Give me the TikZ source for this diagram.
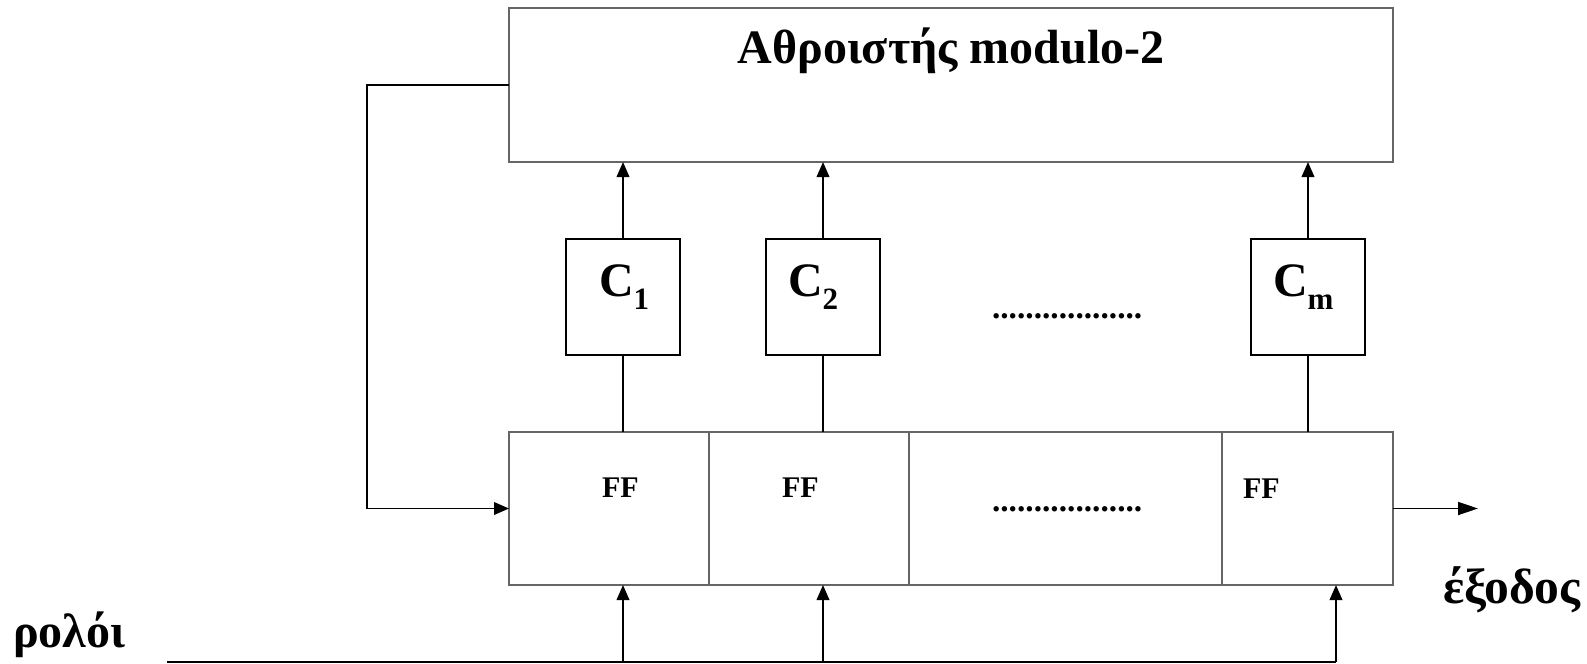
\documentclass[tikz,border=0pt]{standalone}
\usepackage{fontspec}
\setmainfont{Liberation Serif}
\usetikzlibrary{arrows.meta}
\begin{document}
\begin{tikzpicture}[x=0.5pt,y=-0.5pt,
  bigbox/.style={draw=black!60,line width=0.6pt,inner sep=0pt,outer sep=0pt,rectangle},
  cbox/.style={draw=black,line width=1pt,inner sep=0pt,outer sep=0pt,rectangle,minimum width=57pt,minimum height=58pt},
  cell/.style={bigbox,minimum height=76.5pt},
  wire/.style={draw=black,line width=0.9pt},
  arr/.style={wire,-{Triangle[length=7.5pt,width=6.3pt]}},
  outarr/.style={wire,-{Triangle[length=10pt,width=6.5pt]}},
  txt/.style={inner sep=0pt,outer sep=0pt,font=\bfseries}]
\useasboundingbox (0,0) rectangle (1587,664);
% top adder box
\node[bigbox,minimum width=442pt,minimum height=77pt] (sum) at (951,85) {};
\node[txt,anchor=base,font=\bfseries\fontsize{24}{24}\selectfont] (sumlabel) at (951,63) {Αθροιστής modulo-2};
% coefficient boxes
\node[cbox] (c1) at (623,297) {};
\node[cbox] (c2) at (823,297) {};
\node[cbox] (cm) at (1308,297) {};
\newcommand{\csub}[1]{{\fontsize{15.5}{15.5}\selectfont\raisebox{-6.5pt}{#1}}}
\node[txt,anchor=base west,font=\bfseries\fontsize{24}{24}\selectfont] (c1l) at (599,296) {C\csub{1}};
\node[txt,anchor=base west,font=\bfseries\fontsize{24}{24}\selectfont] (c2l) at (788,296) {C\csub{2}};
\node[txt,anchor=base west,font=\bfseries\fontsize{24}{24}\selectfont] (cml) at (1273,296) {C\csub{m}};
\node[txt,anchor=base west,font=\bfseries\fontsize{16.7}{16.7}\selectfont] (dots1) at (992,318) {..................};
% register cells
\node[cell,minimum width=100pt] (ff1) at (609,508.5) {};
\node[cell,minimum width=100pt] (ff2) at (809,508.5) {};
\node[cell,minimum width=156.5pt] (ffd) at (1065.5,508.5) {};
\node[cell,minimum width=85.5pt] (ffm) at (1307.5,508.5) {};
\node[txt,anchor=base west,font=\bfseries\fontsize{15}{15}\selectfont] (ff1l) at (602,497) {FF};
\node[txt,anchor=base west,font=\bfseries\fontsize{15}{15}\selectfont] (ff2l) at (782,497) {FF};
\node[txt,anchor=base west,font=\bfseries\fontsize{15}{15}\selectfont] (ffml) at (1243,498) {FF};
\node[txt,anchor=base west,font=\bfseries\fontsize{16.7}{16.7}\selectfont] (dots2) at (992,511) {..................};
% labels
\node[txt,anchor=base west,font=\bfseries\fontsize{24}{24}\selectfont] (clklabel) at (13,647) {ρολόι};
\node[txt,anchor=base west,font=\bfseries\fontsize{24.8}{24.8}\selectfont] (outlabel) at (1443,603) {έξοδος};
% connectors C -> adder
\draw[arr] (c1.north) -- (c1.north |- sum.south);
\draw[arr] (c2.north) -- (c2.north |- sum.south);
\draw[arr] (cm.north) -- (cm.north |- sum.south);
% register -> C
\draw[wire] (c1.south) -- (c1.south |- ff1.north);
\draw[wire] (c2.south) -- (c2.south |- ff2.north);
\draw[wire] (cm.south) -- (cm.south |- ffm.north);
% feedback
\coordinate (fbx) at (367,85);
\draw[arr] (sum.west) -- (fbx) |- (ff1.west);
% output
\coordinate (out) at (1478,508.5);
\draw[outarr] (ffm.east) -- (out);
% clock
\coordinate (clkL) at (167,662);
\coordinate (clkR) at (1336,662);
\draw[wire] (clkL) -- (clkR);
\draw[arr] (clkL -| c1) -- (c1 |- ff1.south);
\draw[arr] (clkL -| c2) -- (c2 |- ff2.south);
\draw[arr] (clkR) -- (clkR |- ffm.south);
\end{tikzpicture}
\end{document}
